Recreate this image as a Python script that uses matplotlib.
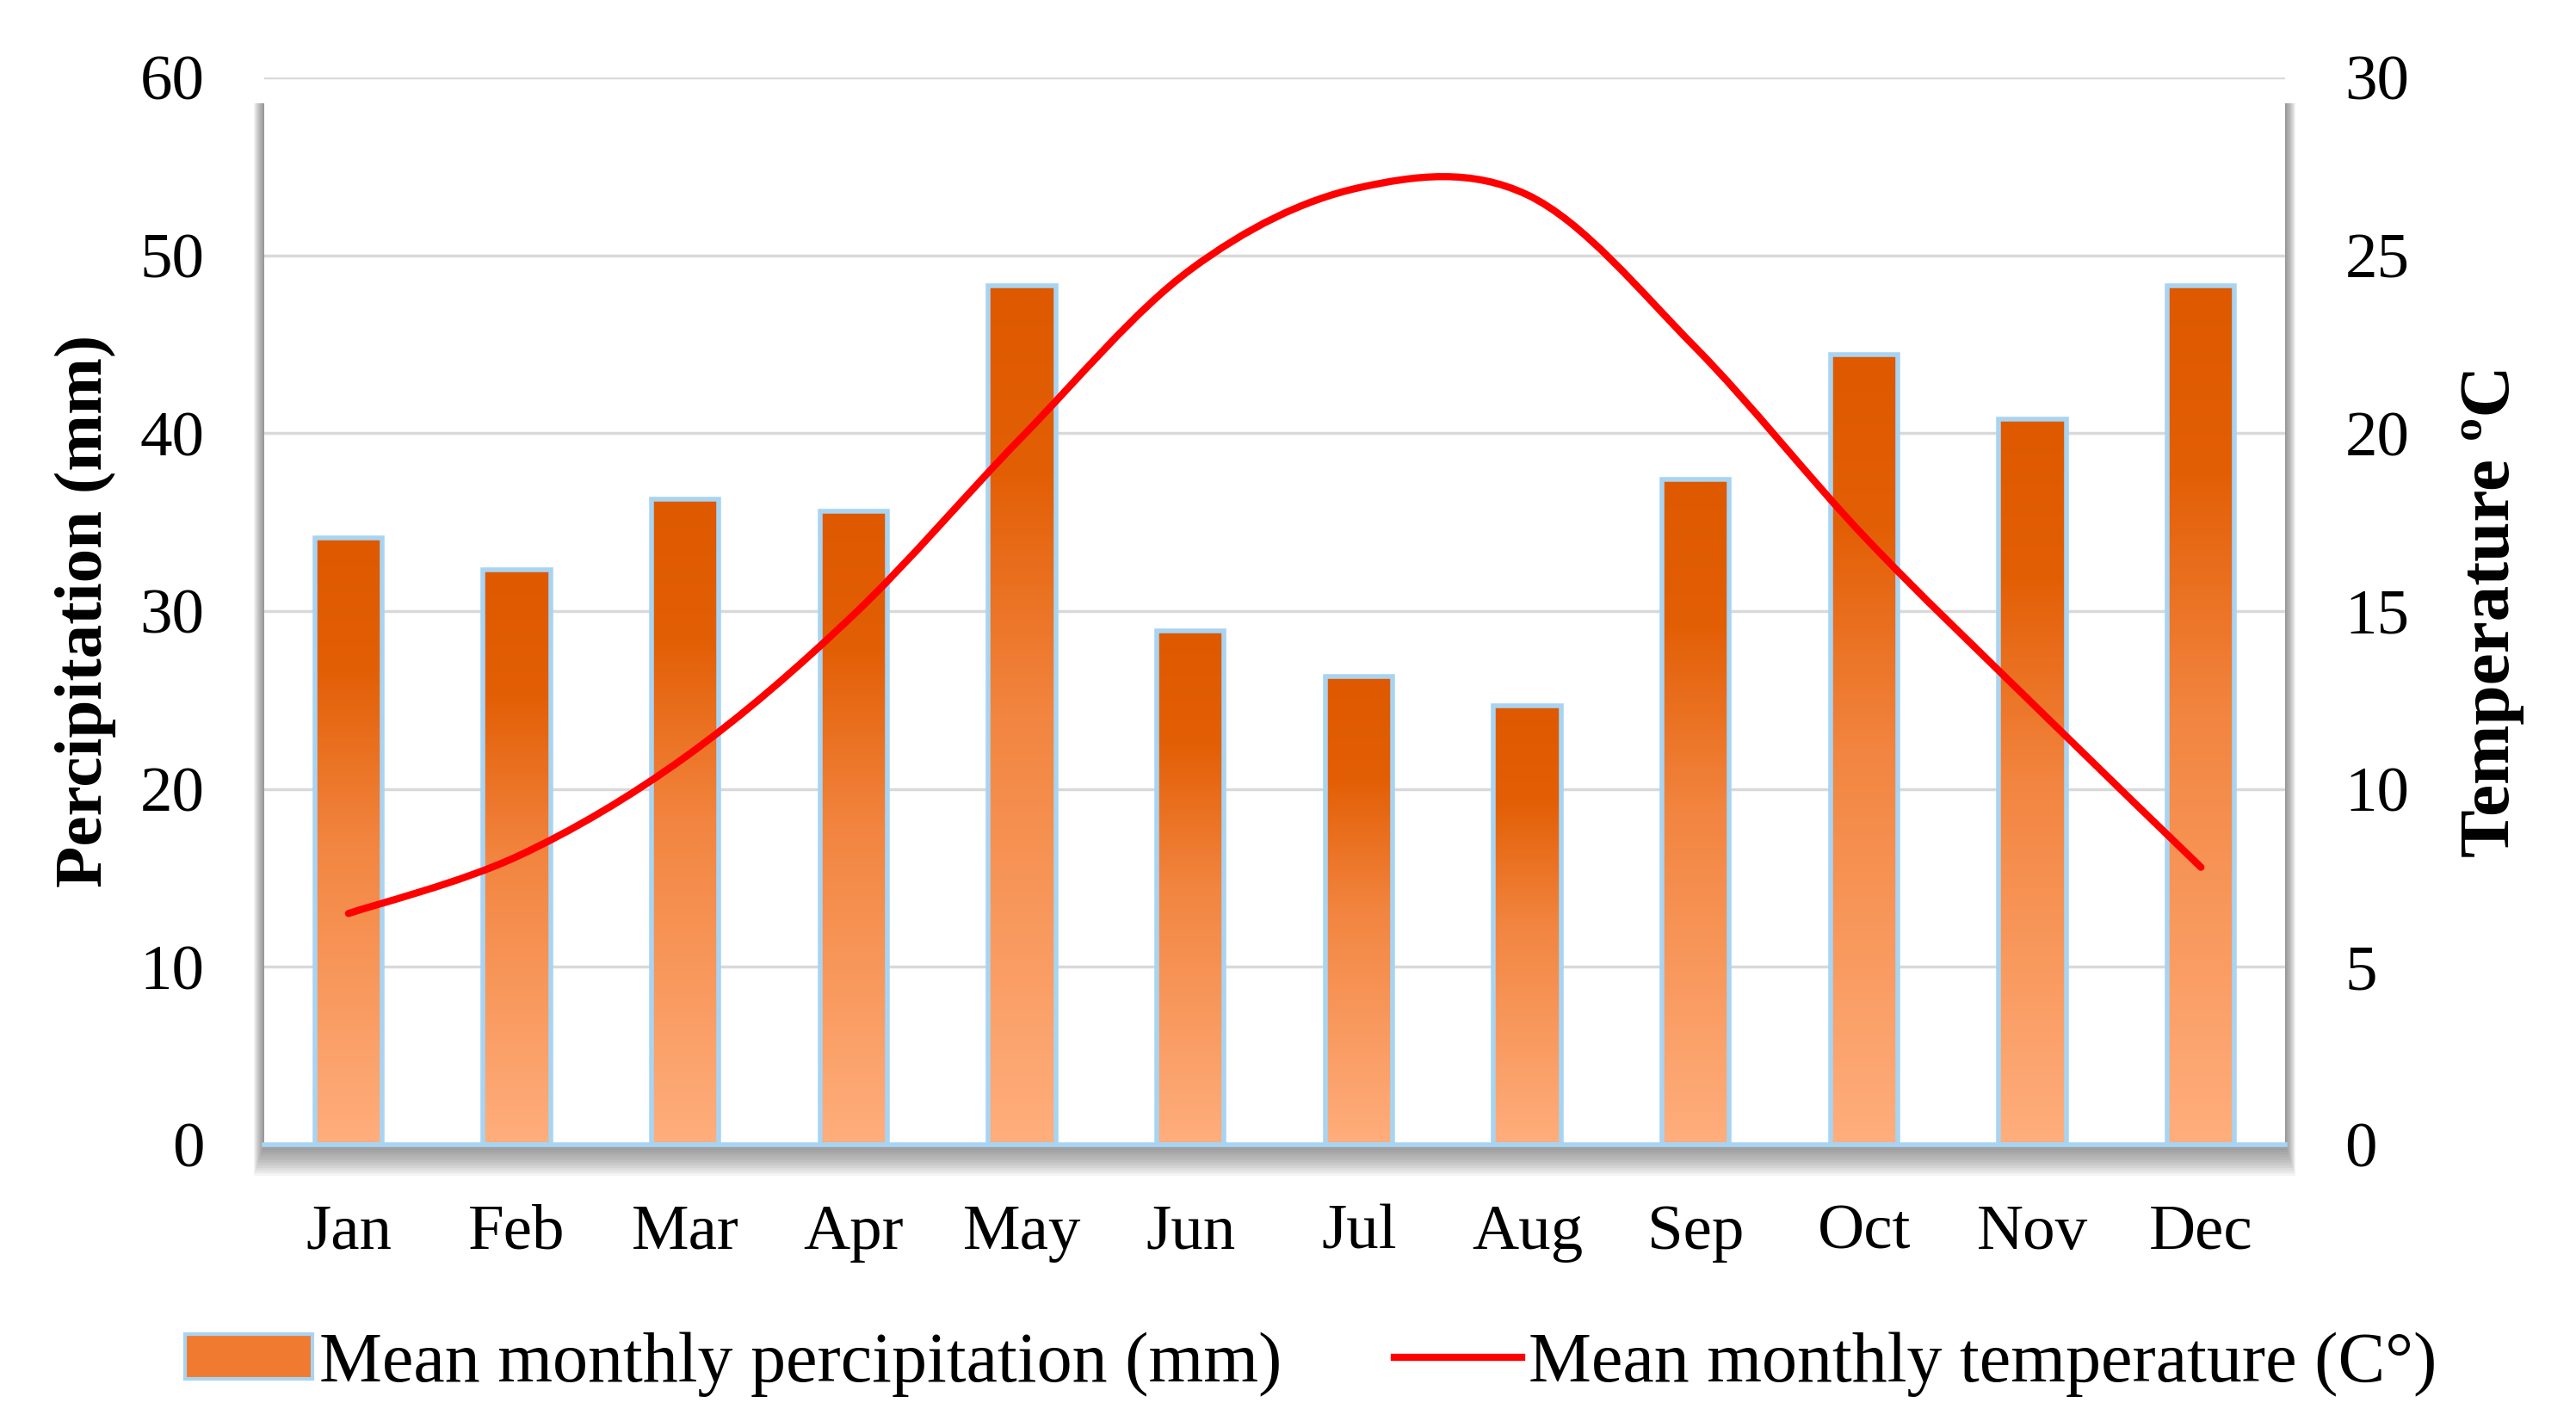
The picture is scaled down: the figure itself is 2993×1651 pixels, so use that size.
import numpy as np
import matplotlib
matplotlib.use('Agg')
import matplotlib.pyplot as plt
from matplotlib.path import Path
from matplotlib.patches import PathPatch, Rectangle, Patch
from matplotlib.lines import Line2D
from matplotlib.colors import LinearSegmentedColormap

plt.rcParams['font.family'] = ['Liberation Serif', 'DejaVu Serif']

months = ['Jan', 'Feb', 'Mar', 'Apr', 'May', 'Jun', 'Jul', 'Aug', 'Sep', 'Oct', 'Nov', 'Dec']
precip = [34.1, 32.3, 36.3, 35.6, 48.3, 28.9, 26.3, 24.7, 37.4, 44.4, 40.8, 48.3]
temp = [6.5, 8.1, 10.9, 14.9, 19.9, 24.6, 26.9, 26.7, 22.4, 17.1, 12.4, 7.8]
precip_ticks = [0, 10, 20, 30, 40, 50, 60]
temp_ticks = [0, 5, 10, 15, 20, 25, 30]

fs = 54
edge_blue = '#A8D4F2'
grad = LinearSegmentedColormap.from_list(
    'bar', [(0, '#FFAE7D'), (0.5, '#F28540'), (0.78, '#E35F06'), (1, '#DE5900')])

W, H = 2993, 1651
fig = plt.figure(figsize=(W / 100, H / 100), dpi=100)
ax = fig.add_axes([0.1026, 0.1944, 0.7845, 0.7511])

# soft shadow round the plot area (mostly below it)
pos = ax.get_position()
for i in range(12):
    px = (i + 1) * 1.0 / W
    py = (i + 1) * 3.0 / H
    fig.patches.append(Rectangle((pos.x0 - px, pos.y0 - py),
                                 pos.width + 2 * px, pos.height - 30.0 / H + py,
                                 transform=fig.transFigure, facecolor='#505050',
                                 alpha=0.065, edgecolor='none', zorder=0))

x = np.arange(len(months))
ax.set_zorder(2)
ax.patch.set_facecolor('white')
bars = ax.bar(x, precip, width=0.4, facecolor='none', edgecolor=edge_blue,
              linewidth=4, zorder=3)
g = np.linspace(0, 1, 256).reshape(-1, 1)
for b in bars:
    im = ax.imshow(g, cmap=grad, origin='lower', aspect='auto',
                   extent=[b.get_x(), b.get_x() + b.get_width(), 0, b.get_height()],
                   zorder=2.5)
    im.set_clip_path(b)

ax.set_xlim(-0.5, 11.5)
ax.set_ylim(0, 60)
ax.set_yticks(precip_ticks)
ax.set_xticks(x)
ax.set_xticklabels(months)
ax.grid(axis='y', color='#D9D9D9', linewidth=2.5, zorder=1)
ax.set_axisbelow(True)
for s in ['top', 'left', 'right']:
    ax.spines[s].set_visible(False)
ax.spines['bottom'].set_color(edge_blue)
ax.spines['bottom'].set_linewidth(4)
ax.spines['bottom'].set_zorder(4)
ax.tick_params(axis='both', length=0, labelsize=fs)
ax.tick_params(axis='y', pad=50)
ax.tick_params(axis='x', pad=50)
ax.set_ylabel('Percipitation (mm)', fontsize=57, fontweight='bold', labelpad=20)

ax2 = ax.twinx()
ax2.set_ylim(0, 30)
ax2.set_yticks(temp_ticks)
ax2.tick_params(axis='y', length=0, labelsize=fs, pad=50)
for s in ax2.spines.values():
    s.set_visible(False)
ax2.set_ylabel('Temperature ºC', fontsize=60, fontweight='bold', labelpad=42)

# smoothed temperature line (Bezier through the monthly values)
pts = np.column_stack([x, temp]).astype(float)
ext = np.vstack([pts[0], pts, pts[-1]])
verts = [tuple(pts[0])]
codes = [Path.MOVETO]
for i in range(len(pts) - 1):
    p0, p1, p2, p3 = ext[i], ext[i + 1], ext[i + 2], ext[i + 3]
    c1 = p1 + (p2 - p0) / 6.0
    c2 = p2 - (p3 - p1) / 6.0
    verts += [tuple(c1), tuple(c2), tuple(p2)]
    codes += [Path.CURVE4] * 3
ax2.add_patch(PathPatch(Path(verts, codes), facecolor='none', edgecolor='#FF0000',
                        linewidth=6, capstyle='round', zorder=5))

handles = [Patch(facecolor='#F07A30', edgecolor=edge_blue, linewidth=3),
           Line2D([0], [0], color='#FF0000', linewidth=6)]
labels = ['Mean monthly percipitation (mm)', 'Mean monthly temperature (C°)']
fig.legend(handles, labels, loc='center', bbox_to_anchor=(0.509, 0.04), ncol=2,
           frameon=False, fontsize=59, handlelength=1.8, handleheight=0.6,
           handletextpad=0.1, columnspacing=1.6)

fig.savefig('out.png', dpi=100, facecolor='white')
